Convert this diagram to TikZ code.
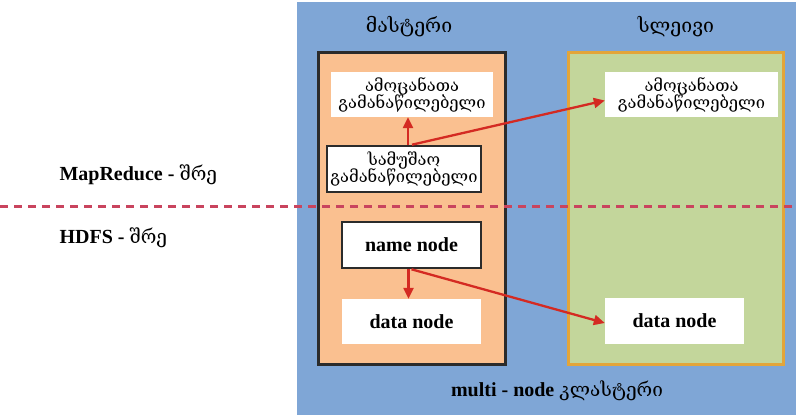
\documentclass[tikz,border=0pt]{standalone}
\usepackage{fontspec}
\setmainfont{Liberation Serif}
\newfontfamily\geo{DejaVu Serif}
\usetikzlibrary{arrows.meta}

\definecolor{clusterblue}{HTML}{7FA6D6}
\definecolor{masterfill}{HTML}{FAC090}
\definecolor{slavefill}{HTML}{C3D69B}
\definecolor{slaveedge}{HTML}{E3A53A}
\definecolor{darkedge}{HTML}{2B2B2B}
\definecolor{arrowred}{HTML}{D42A22}
\definecolor{layerred}{HTML}{C9445E}

\begin{document}
\begin{tikzpicture}[x=1pt,y=-1pt,
  panel/.style={minimum width=#1, inner sep=0pt, line width=3pt},
  whitebox/.style={fill=white, inner sep=0pt, align=center, text=black},
  framedbox/.style={whitebox, draw=darkedge, line width=2.6pt},
  latinlbl/.style={font=\fontsize{20}{22}\selectfont\bfseries},
  geolbl/.style={font=\geo\fontsize{16.5}{18}\selectfont, align=center},
  headlbl/.style={font=\geo\fontsize{19.5}{22}\selectfont},
  georun/.style={},
  flow/.style={-{Triangle[length=11pt,width=10pt]}, draw=arrowred, line width=2.3pt},
  layerline/.style={draw=layerred, line width=3pt, dash pattern=on 8pt off 6pt}
]
\useasboundingbox (0,0) rectangle (796,417);
\fill[white] (0,0) rectangle (796,417);

% cluster background
\node[fill=clusterblue, minimum width=499pt, minimum height=413pt, inner sep=0pt] (cluster) at (546.5,208.5) {};

% master and slave panels
\node[panel=187pt, minimum height=311pt, fill=masterfill, draw=darkedge] (master) at (411.5,208.5) {};
\node[panel=215pt, minimum height=311pt, fill=slavefill, draw=slaveedge] (slave) at (675.5,208.5) {};

\node[headlbl] (mastertitle) at (409,27) {მასტერი};
\node[headlbl] (slavetitle) at (676,27) {სლეივი};

% MapReduce layer
\node[whitebox, geolbl, minimum width=162pt, minimum height=45pt] (mtask) at (412,94.5) {ამოცანათა\\[-1pt]გამანაწილებელი};
\node[whitebox, geolbl, minimum width=173pt, minimum height=45pt] (stask) at (691.5,94.5) {ამოცანათა\\[-1pt]გამანაწილებელი};
\node[framedbox, geolbl, minimum width=154pt, minimum height=46pt] (worker) at (404,169) {სამუშაო\\[-1pt]გამანაწილებელი};

% HDFS layer
\node[framedbox, latinlbl, minimum width=139pt, minimum height=46pt] (name) at (411.5,245) {name node};
\node[whitebox, latinlbl, minimum width=139pt, minimum height=45pt] (mdata) at (411.5,321.5) {data node};
\node[whitebox, latinlbl, minimum width=139pt, minimum height=46pt] (sdata) at (674.5,321) {data node};

% layer boundary
\coordinate (layerL) at (0,207);
\coordinate (layerR) at (796,207);
\draw[layerline] (layerL) -- (layerR);

\node[latinlbl, anchor=west] (mrlabel) at (56,175) {MapReduce - {\geo\mdseries\fontsize{19}{22}\selectfont შრე}};
\node[latinlbl, anchor=west] (hdfslabel) at (56,238) {HDFS - {\geo\mdseries\fontsize{19}{22}\selectfont შრე}};
\node[latinlbl] (clusterlabel) at (557,391) {multi - node {\geo\mdseries\fontsize{19}{22}\selectfont კლასტერი}};

% task assignment and block replication
\draw[flow] ([xshift=4pt]worker.north) -- ([xshift=4pt]worker.north |- mtask.south);
\draw[flow] ([xshift=8pt]worker.north) -- ([yshift=-6pt]stask.west);
\draw[flow] ([xshift=-3pt]name.south) -- ([xshift=-3pt]name.south |- mdata.north);
\draw[flow] (name.south) -- ([yshift=-2pt]sdata.west);
\end{tikzpicture}
\end{document}
